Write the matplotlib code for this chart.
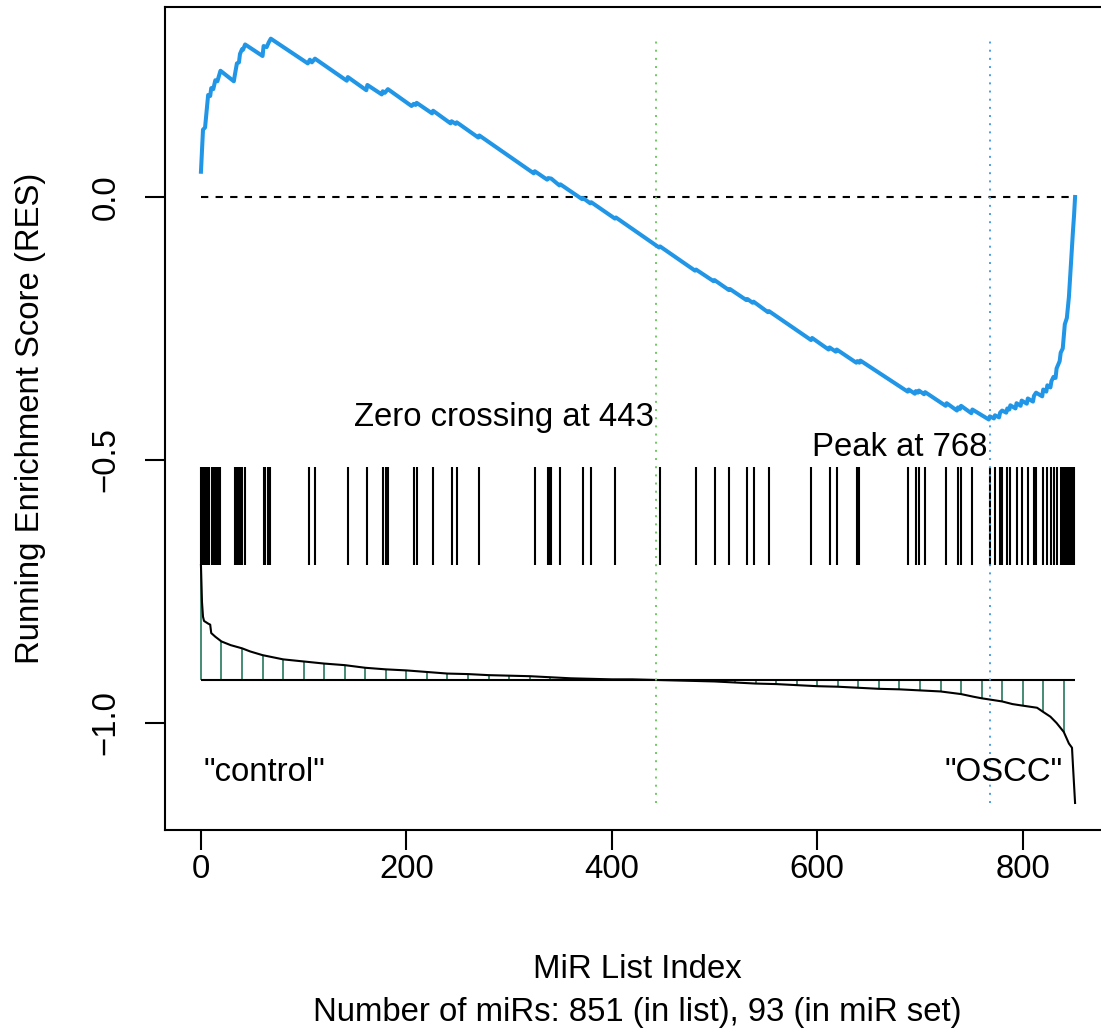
import matplotlib
matplotlib.use("Agg")
import matplotlib.pyplot as plt
import numpy as np

plt.rcParams['font.family'] = ['Liberation Sans', 'DejaVu Sans']

# running enrichment score (rank, RES)
res_rank = [0, 2, 4, 7, 9, 10, 12, 14, 16, 19, 32, 33, 35, 37, 38, 40, 41, 43, 60, 61, 64, 66, 68,
            104, 106, 108, 111, 142, 143, 161, 162, 176, 177, 179, 182, 205, 207, 209, 210, 225, 226,
            243, 244, 248, 249, 270, 271, 324, 325, 337, 338, 341, 349, 350, 371, 372, 379, 380, 403, 404,
            446, 447, 481, 482, 499, 500, 514, 515, 531, 532, 537, 538, 552, 553, 594, 595, 611, 612,
            618, 619, 638, 639, 641, 642, 688, 689, 695, 696, 698, 699, 704, 705, 725, 726, 736, 737,
            739, 740, 750, 751, 767, 768, 772, 773, 777, 778, 780, 784, 785, 787, 788, 793, 794, 798,
            799, 804, 805, 810, 811, 813, 819, 820, 823, 824, 827, 828, 830, 832, 833, 836, 837, 839,
            841, 843, 845, 847, 849, 850, 851]
res_value = [0.048, 0.128, 0.132, 0.194, 0.192, 0.207, 0.205, 0.222, 0.220, 0.240, 0.220, 0.232, 0.254,
             0.256, 0.272, 0.281, 0.280, 0.290, 0.268, 0.287, 0.285, 0.294, 0.301,
             0.254, 0.261, 0.256, 0.263, 0.221, 0.228, 0.203, 0.213, 0.195, 0.201, 0.198, 0.205,
             0.173, 0.177, 0.175, 0.179, 0.159, 0.164,
             0.140, 0.144, 0.139, 0.142, 0.113, 0.117, 0.045, 0.049, 0.033, 0.036, 0.035, 0.022, 0.024,
             -0.004, -0.002, -0.012, -0.010, -0.041, -0.039,
             -0.096, -0.094, -0.140, -0.138, -0.160, -0.158, -0.177, -0.175, -0.196, -0.194, -0.201, -0.199,
             -0.219, -0.217, -0.272, -0.268, -0.290, -0.286,
             -0.294, -0.290, -0.315, -0.312, -0.315, -0.311, -0.370, -0.366, -0.374, -0.369, -0.372, -0.368,
             -0.375, -0.371, -0.397, -0.392, -0.406, -0.400,
             -0.403, -0.397, -0.411, -0.404, -0.423, -0.417, -0.421, -0.415, -0.419, -0.410, -0.406, -0.410,
             -0.402, -0.404, -0.396, -0.402, -0.392, -0.397,
             -0.387, -0.393, -0.383, -0.389, -0.378, -0.372, -0.379, -0.366, -0.370, -0.358, -0.362, -0.350,
             -0.342, -0.344, -0.326, -0.312, -0.296, -0.288,
             -0.242, -0.230, -0.190, -0.126, -0.063, -0.035, 0.0]

# positions of the miRs of the set in the ranked list
hits = [0, 1, 2, 3, 4, 6, 8, 11, 13, 15, 17, 19, 33, 34, 35, 36, 37, 38, 39, 40, 43, 61, 62, 65, 67,
        105, 111, 143, 162, 177, 180, 182, 207, 210, 226, 244, 249, 271, 325, 338, 339, 341, 350, 372,
        380, 403, 447, 482, 500, 514, 532, 538, 553, 594, 612, 619, 639, 641, 688, 696, 699, 705, 725,
        737, 740, 751, 768, 773, 778, 780, 785, 788, 794, 799, 805, 811, 813, 820, 824, 828, 830, 833,
        837, 839, 840, 841, 842, 843, 845, 846, 847, 848, 850]

# ranked list metric (already shifted into the plot)
metric_rank = [0, 1, 2, 3, 7, 9, 10, 14, 20, 29, 40, 48, 60, 80, 100, 120, 140, 160, 180, 200, 220, 240,
               260, 280, 300, 320, 340, 360, 380, 400, 420, 440, 460, 480, 500, 520, 540, 560, 580, 600,
               620, 640, 660, 680, 700, 720, 740, 752, 760, 780, 790, 800, 814, 820, 827, 833, 840, 845,
               848, 849, 851]
metric_value = [-0.700, -0.770, -0.798, -0.806, -0.811, -0.813, -0.829, -0.836, -0.845, -0.852, -0.858,
                -0.864, -0.871, -0.879, -0.883, -0.887, -0.890, -0.895, -0.898, -0.900, -0.903, -0.906,
                -0.907, -0.909, -0.910, -0.911, -0.913, -0.915, -0.916, -0.917, -0.917, -0.918, -0.919,
                -0.920, -0.921, -0.923, -0.925, -0.926, -0.928, -0.930, -0.931, -0.933, -0.935, -0.936,
                -0.938, -0.940, -0.945, -0.950, -0.953, -0.959, -0.964, -0.967, -0.971, -0.979, -0.988,
                -1.000, -1.017, -1.039, -1.047, -1.083, -1.152]
metric_base = -0.918

n_list = 851
n_set = 93
zero_cross = 443
peak = 768

W, H = 1101, 1036
fig = plt.figure(figsize=(W / 100, H / 100), dpi=100)
ax = fig.add_axes([165 / W, 1 - 830 / H, 945 / W, 823 / H])

fs = 23.7
blue = '#2196E6'

ax.plot(res_rank, res_value, color=blue, lw=2.9, solid_joinstyle='round', zorder=3)
ax.hlines(0, 0, n_list, colors='black', lw=1.5, linestyles=(0, (3.5, 3.5)))

ax.vlines(hits, -0.70, -0.513, colors='black', lw=1.5)

metric_rank = np.array(metric_rank)
metric_value = np.array(metric_value)
stem = metric_rank % 20 == 0
ax.vlines(metric_rank[stem], metric_base, metric_value[stem], colors='#458B74', lw=1.4)
ax.hlines(metric_base, 0, n_list, colors='black', lw=1.5)
ax.plot(metric_rank, metric_value, color='black', lw=1.5)

ax.vlines(zero_cross, -1.152, 0.304, colors='#6CCB5F', lw=1.4, linestyles=(0, (1, 3.2)))
ax.vlines(peak, -1.152, 0.304, colors='#4A9FE0', lw=1.4, linestyles=(0, (1, 3.2)))

ax.text(zero_cross - 2, -0.420, 'Zero crossing at %d' % zero_cross, ha='right', va='center', fontsize=fs)
ax.text(peak - 2, -0.477, 'Peak at %d' % peak, ha='right', va='center', fontsize=fs)
ax.text(2, -1.095, '"control"', ha='left', va='center', fontsize=fs)
ax.text(839, -1.095, '"OSCC"', ha='right', va='center', fontsize=fs)

ax.set_xlim(-35, 885)
ax.set_ylim(-1.2034, 0.3612)
ax.set_xticks([0, 200, 400, 600, 800])
ax.set_yticks([0.0, -0.5, -1.0])
ax.set_yticklabels(['0.0', '\u22120.5', '\u22121.0'], rotation=90, va='center')
ax.tick_params(axis='both', direction='out', length=14.4, width=1.5, labelsize=fs)
ax.tick_params(axis='x', pad=3)
ax.tick_params(axis='y', pad=17)
for s in ax.spines.values():
    s.set_linewidth(1.5)

fig.text(31 / W, 1 - 418 / H, 'Running Enrichment Score (RES)', rotation=90,
         ha='center', va='center', fontsize=fs)
fig.text(637.5 / W, 1 - 970 / H, 'MiR List Index', ha='center', va='center', fontsize=fs)
fig.text(637.5 / W, 1 - 1013 / H, 'Number of miRs: %d (in list), %d (in miR set)' % (n_list, n_set),
         ha='center', va='center', fontsize=fs)

fig.savefig('out.png', dpi=100)
